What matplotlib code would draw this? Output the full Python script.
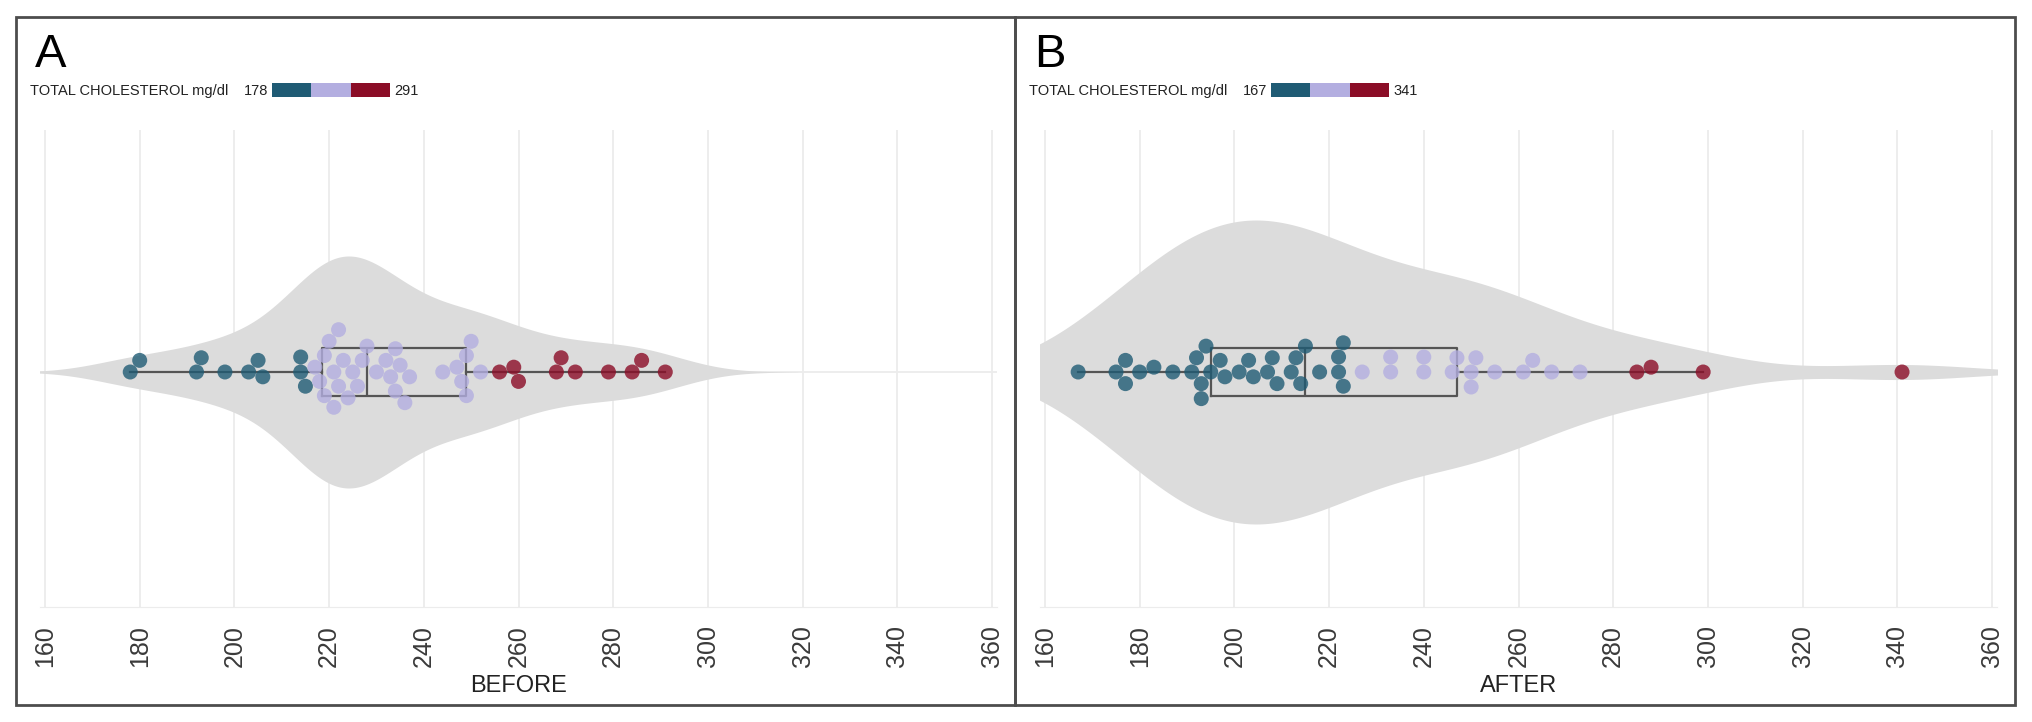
import numpy as np
import matplotlib
matplotlib.use('Agg')
import matplotlib.pyplot as plt
from matplotlib.colors import ListedColormap, BoundaryNorm
from matplotlib.cm import ScalarMappable
from matplotlib.patches import Rectangle

plt.rcParams['font.family'] = ['Liberation Sans', 'DejaVu Sans']

# total cholesterol (mg/dl)
before = [178, 180, 192, 193, 198, 203, 205, 206, 214, 214, 215,
          217, 218, 219, 219, 220, 221, 221, 222, 222, 223, 224, 225, 226, 227, 228,
          230, 232, 233, 234, 234, 235, 236, 237, 244, 247, 248, 249, 249, 250, 252,
          256, 259, 260, 268, 269, 272, 279, 284, 286, 291]
after = [167, 175, 177, 177, 180, 183, 187, 191, 192, 193, 193, 194, 195, 197, 198,
         201, 203, 204, 207, 208, 209, 212, 213, 214, 215, 218, 222, 222, 223, 223,
         227, 233, 233, 240, 240, 246, 247, 250, 250, 251, 255, 261, 263, 267, 273,
         285, 288, 299, 341]
panel_letters = ['A', 'B']
panel_titles = ['BEFORE', 'AFTER']
legend_title = 'TOTAL CHOLESTEROL mg/dl'
xticks = list(range(160, 361, 20))

colors = ['#1f5b74', '#b3aee0', '#8b0d27']
W, H = 2032, 722
PX = 4.735          # pixels per mg/dl
DOT = 15.0          # dot diameter in pixels


def swarm(vals, d):
    # simple beeswarm: put each point as close to the centre line as possible
    placed = []
    ys = []
    for v in vals:
        px = v * PX
        cands = [0.0]
        for qx, qy in placed:
            dx = px - qx
            if abs(dx) < d:
                h = np.sqrt(d * d - dx * dx)
                cands += [qy + h, qy - h]
        cands = sorted(cands, key=lambda c: (abs(c), -c))
        for c in cands:
            if all((px - qx) ** 2 + (c - qy) ** 2 >= d * d - 1e-6 for qx, qy in placed):
                ys.append(c)
                placed.append((px, c))
                break
    return np.array(ys)


def kde(vals, grid):
    vals = np.asarray(vals, float)
    n = len(vals)
    iqr = np.subtract(*np.percentile(vals, [75, 25]))
    bw = 0.9 * min(vals.std(ddof=1), iqr / 1.34) * n ** -0.2
    dens = np.exp(-0.5 * ((grid[:, None] - vals[None, :]) / bw) ** 2).sum(axis=1)
    return dens, bw


def panel(left_px, panel_left, vals, letter, title, half_h):
    vals = np.sort(np.asarray(vals, float))
    ax = fig.add_axes([left_px / W, (H - 607) / H, 202 * PX / W, 477 / H])
    ax.set_xlim(159, 361)
    ax.set_ylim(-235, 242)

    # violin (untrimmed kde)
    _, bw = kde(vals, vals)
    xg = np.linspace(vals.min() - 3 * bw, vals.max() + 3 * bw, 512)
    dens, _ = kde(vals, xg)
    dens = dens / dens.max() * half_h
    ax.fill_between(xg, -dens, dens, color='#dcdcdc', lw=0, zorder=1)

    # box
    ax.boxplot(vals, orientation='horizontal', positions=[0], widths=48,
               showfliers=False, showcaps=False, patch_artist=False,
               boxprops=dict(color='#555555', lw=1.6),
               medianprops=dict(color='#555555', lw=1.6),
               whiskerprops=dict(color='#555555', lw=1.6), zorder=2)

    # points coloured in three equal bins of the range
    cmap = ListedColormap(colors)
    norm = BoundaryNorm(np.linspace(vals.min(), vals.max(), 4), 3, clip=True)
    ys = swarm(vals, DOT)
    ax.scatter(vals, ys, s=(DOT * 72 / 100) ** 2, c=cmap(norm(vals)),
               alpha=0.8, edgecolors='none', zorder=3)

    ax.set_xticks(xticks)
    ax.set_xticklabels([str(t) for t in xticks], rotation=90, fontsize=18, color='#3a3a3a')
    ax.tick_params(axis='x', length=0, pad=13)
    ax.set_yticks([])
    ax.grid(axis='x', color='#ececec', lw=1.3, zorder=0)
    ax.axhline(0, color='#ececec', lw=1.3, zorder=0)
    for s in ['top', 'left', 'right']:
        ax.spines[s].set_visible(False)
    ax.spines['bottom'].set_color('#ececec')
    ax.set_axisbelow(True)
    ax.set_xlabel(title, fontsize=17, color='#222222', labelpad=6)

    # panel letter and colour legend
    fig.text((panel_left + 19) / W, 1 - 67 / H, letter, fontsize=34, va='baseline')
    fig.text((panel_left + 14) / W, 1 - 95 / H, legend_title, fontsize=10.5,
             va='baseline', color='#222222')
    cax = fig.add_axes([(panel_left + 256) / W, 1 - 97 / H, 118 / W, 14 / H])
    cb = fig.colorbar(ScalarMappable(norm=norm, cmap=cmap), cax=cax, orientation='horizontal')
    cb.set_ticks([])
    cb.outline.set_visible(False)
    cax.minorticks_off()
    cax.tick_params(which='both', length=0, labelbottom=False)
    fig.text((panel_left + 252) / W, 1 - 95 / H, '%d' % vals.min(), fontsize=10.5,
             va='baseline', ha='right', color='#222222')
    fig.text((panel_left + 378) / W, 1 - 95 / H, '%d' % vals.max(), fontsize=10.5,
             va='baseline', ha='left', color='#222222')
    return ax


fig = plt.figure(figsize=(W / 100, H / 100), dpi=100)
panel(45 - PX, 16, before, panel_letters[0], panel_titles[0], 116)
panel(1045 - PX, 1015, after, panel_letters[1], panel_titles[1], 152)

# panel frames
for x0, x1 in [(16, 1015), (1015, 2015)]:
    fig.patches.append(Rectangle((x0 / W, 1 - 705 / H), (x1 - x0) / W, (705 - 17) / H,
                                 transform=fig.transFigure, fill=False,
                                 edgecolor='#4d4d4d', lw=2))

fig.savefig('out.png', dpi=100)
